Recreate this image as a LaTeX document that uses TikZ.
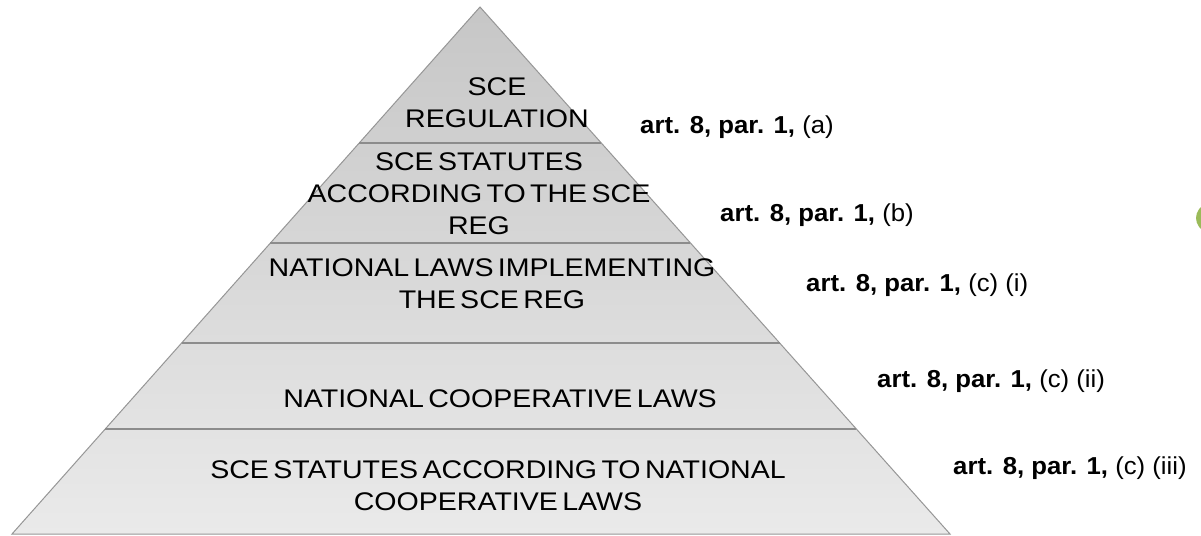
\documentclass[tikz,border=0pt]{standalone}
\usepackage{fontspec}
\setmainfont{Liberation Sans}
\newfontfamily\bandfont[FakeStretch=1.12, WordSpace=0.55]{Liberation Sans}
\newfontfamily\reffont[FakeStretch=1.05]{Liberation Sans}
\usetikzlibrary{calc}
\definecolor{edgegray}{RGB}{150,150,150}
\definecolor{linegray}{RGB}{140,140,140}
\definecolor{topgray}{RGB}{198,198,198}
\definecolor{botgray}{RGB}{234,234,234}
\definecolor{offgreen}{RGB}{155,187,89}
\tikzset{
  band/.style={align=center, font=\bandfont\fontsize{25.5}{32}\selectfont, text=black, inner sep=0pt},
  ref/.style={anchor=west, font=\reffont\fontsize{24.5}{26}\selectfont, text=black, inner sep=0pt},
  divider/.style={draw=linegray, line width=1.8pt}
}
\begin{document}
\begin{tikzpicture}[x=1pt,y=-1pt]
\useasboundingbox (0,0) rectangle (1201,535);
\coordinate (apex) at (480,7);
\coordinate (bl) at (12,534);
\coordinate (br) at (950,534);
% pyramid fill
\begin{scope}
\clip (apex) -- (br) -- (bl) -- cycle;
\shade[top color=topgray, bottom color=botgray] (0,0) rectangle (1201,535);
\end{scope}
\draw[edgegray, line width=1pt] (apex) -- (br) -- (bl) -- cycle;
% dividers
\foreach \n/\t in {1/136, 2/236, 3/336, 4/422}{
  \coordinate (l\n) at ($(apex)!{\t/527}!(bl)$);
  \coordinate (r\n) at ($(apex)!{\t/527}!(br)$);
}
\draw[divider] (l1) -- (r1);
\draw[divider] (l2) -- (r2);
\draw[divider] (l3) -- (r3);
\draw[divider] (l4) -- (r4);
% band texts
\node[band] (t1) at (497,103) {SCE\\REGULATION};
\node[band] (t2) at (479,194) {SCE STATUTES\\ACCORDING TO THE SCE\\REG};
\node[band] (t3) at (492,284) {NATIONAL LAWS IMPLEMENTING\\THE SCE REG};
\node[band] (t4) at (500,399) {NATIONAL COOPERATIVE LAWS};
\node[band] (t5) at (498,486) {SCE STATUTES ACCORDING TO NATIONAL\\COOPERATIVE LAWS};
% references
\node[ref] (a1) at (640,127) {\textbf{art. 8, par. 1,} (a)};
\node[ref] (a2) at (720,215) {\textbf{art. 8, par. 1,} (b)};
\node[ref] (a3) at (806,285) {\textbf{art. 8, par. 1,} (c) (i)};
\node[ref] (a4) at (877,381) {\textbf{art. 8, par. 1,} (c) (ii)};
\node[ref] (a5) at (953,468) {\textbf{art. 8, par. 1,} (c) (iii)};
% green shape at right edge
\begin{scope}
\clip (0,0) rectangle (1201,535);
\fill[offgreen] (1232,218) ellipse[x radius=36, y radius=22];
\end{scope}
\end{tikzpicture}
\end{document}
